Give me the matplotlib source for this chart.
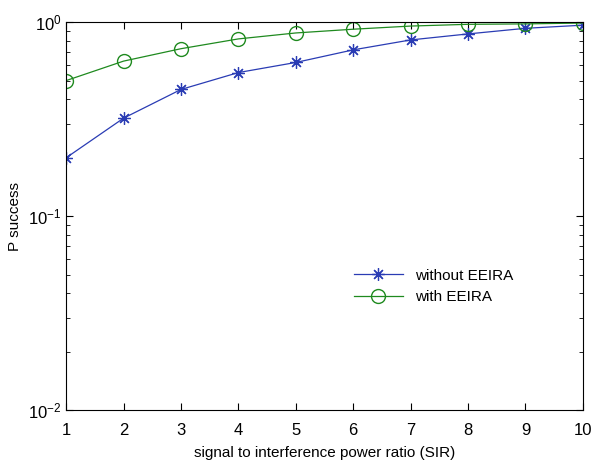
import numpy as np
import matplotlib.pyplot as plt

plt.rcParams['font.family'] = ['Liberation Sans', 'DejaVu Sans']

sir = [1, 2, 3, 4, 5, 6, 7, 8, 9, 10]
p_without = [0.20, 0.32, 0.45, 0.55, 0.62, 0.72, 0.81, 0.87, 0.93, 0.965]
p_with = [0.50, 0.63, 0.73, 0.82, 0.88, 0.92, 0.955, 0.975, 0.98, 0.99]

fig = plt.figure(figsize=(5.96, 4.72), dpi=100)
ax = fig.add_axes([0.111, 0.131, 0.867, 0.822])

ax.semilogy(sir, p_without, color='#2a3cb4', marker=(8, 2, 0), markersize=9,
            markeredgewidth=0.9, linewidth=0.9, label='without EEIRA')
ax.semilogy(sir, p_with, color='#1f8a1f', marker='o', markersize=10,
            markerfacecolor='none', linewidth=0.9, label='with EEIRA')

ax.set_xlim(1, 10)
ax.set_ylim(1e-2, 1)
ax.set_xticks(range(1, 11))
ax.tick_params(which='both', direction='in', top=True, right=True, labelsize=12)
ax.tick_params(axis='x', pad=9)
ax.tick_params(which='major', length=5)
ax.tick_params(which='minor', length=3)
ax.set_xlabel('signal to interference power ratio (SIR)', fontsize=11, labelpad=6)
ax.set_ylabel('P success', fontsize=11)
for s in ax.spines.values():
    s.set_linewidth(0.8)

ax.legend(loc='upper left', bbox_to_anchor=(0.53, 0.4), frameon=False,
          fontsize=11, handlelength=3.2)

fig.savefig('out.png', dpi=100)
